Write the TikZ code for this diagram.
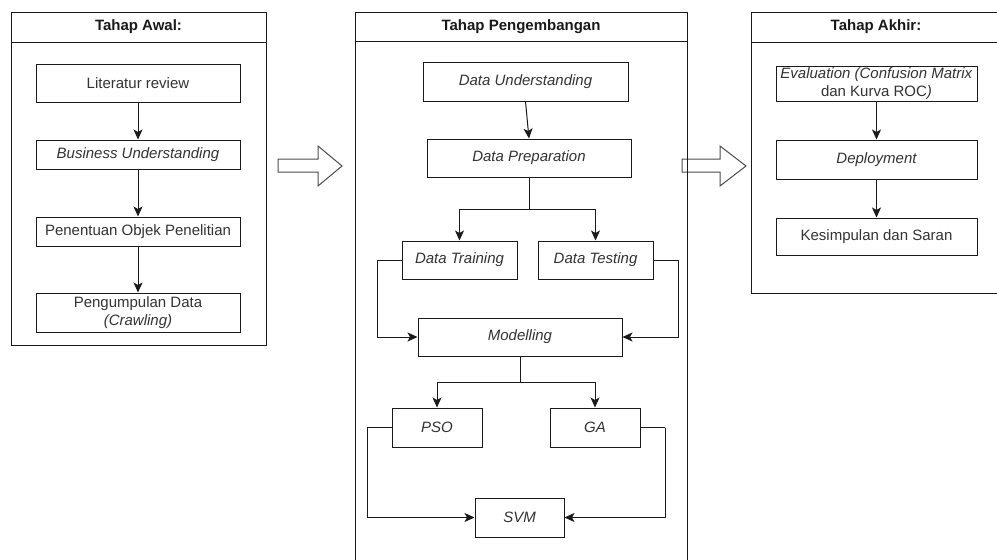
\documentclass[tikz,border=0pt]{standalone}
\usepackage{fontspec}
\setmainfont{Liberation Sans}
\usetikzlibrary{arrows.meta,calc}
\definecolor{txt}{HTML}{333333}
\definecolor{ln}{HTML}{1A1A1A}
\begin{document}
\begin{tikzpicture}[x=1pt,y=-1pt,
  every node/.style={font=\fontsize{15}{17.5}\selectfont, text=txt},
  boxn/.style={draw=ln, line width=1pt, fill=white, inner sep=0pt, align=center},
  hdr/.style={font=\fontsize{15}{17.5}\selectfont\bfseries, text=black!90},
  lane/.style={draw=ln, line width=1pt},
  arr/.style={draw=ln, line width=1pt, -{Stealth[length=10pt,width=9pt,inset=2.5pt]}},
  con/.style={draw=ln, line width=1pt},
  big/.style={draw=black!70, line width=1pt, fill=white, line join=miter}
]
\useasboundingbox (0,0) rectangle (997,560);

% big hollow arrows
\draw[big] (278,159) -- (318,159) -- (318,146) -- (342,166) -- (318,186) -- (318,172) -- (278,172) -- cycle;
\draw[big] (682,159) -- (720,159) -- (720,146) -- (746,166) -- (720,186) -- (720,172) -- (682,172) -- cycle;

% containers
\draw[lane] (11,12) rectangle (266,345);
\draw[lane] (11,42) -- (266,42);
\node[hdr] (h1) at (138.5,27) {Tahap Awal:};

\draw[lane] (355,12) rectangle (687,575);
\draw[lane] (355,41) -- (687,41);
\node[hdr] (h2) at (521,26.5) {Tahap Pengembangan};

\draw[lane] (751,12) rectangle (1005,293);
\draw[lane] (751,42) -- (1005,42);
\node[hdr] (h3) at (876,27) {Tahap Akhir:};

% left column
\node[boxn, minimum width=204pt, minimum height=38pt] (lit) at (138,83) {Literatur review};
\node[boxn, minimum width=204pt, minimum height=29pt] (bu) at (138,154.5) {\itshape Business Understanding};
\node[boxn, minimum width=204pt, minimum height=29pt] (pen) at (138,231.5) {Penentuan Objek Penelitian};
\node[boxn, minimum width=204pt, minimum height=39pt] (pd) at (138,312.5) {Pengumpulan Data\\\textit{(Crawling)}};
\draw[arr] (lit) -- (bu);
\draw[arr] (bu) -- (pen);
\draw[arr] (pen) -- (pd);

% middle column
\node[boxn, minimum width=205pt, minimum height=39pt] (du) at (525.5,81.5) {\itshape Data Understanding};
\node[boxn, minimum width=204pt, minimum height=38pt] (dp) at (529,158) {\itshape Data Preparation};
\node[boxn, minimum width=115pt, minimum height=38pt] (tr) at (459.5,260) {\itshape Data Training};
\node[boxn, minimum width=115pt, minimum height=38pt] (te) at (595.5,260) {\itshape Data Testing};
\node[boxn, minimum width=204pt, minimum height=38pt] (mo) at (520,337) {\itshape Modelling};
\node[boxn, minimum width=90pt, minimum height=39pt] (pso) at (437,427.5) {\itshape PSO};
\node[boxn, minimum width=90pt, minimum height=39pt] (ga) at (595,427.5) {\itshape GA};
\node[boxn, minimum width=89pt, minimum height=39pt] (svm) at (519.5,517.5) {\itshape SVM};

\draw[arr] (du.south) -- (dp.north);
\coordinate (s1) at (529,209);
\draw[con] (dp.south) -- (s1);
\draw[arr] (s1) -| (tr.north);
\draw[arr] (s1) -| (te.north);
\coordinate (trl) at (377,260);
\coordinate (ter) at (678,260);
\draw[con] (tr.west) -- (trl);
\draw[arr] (trl) |- (mo.west);
\draw[con] (te.east) -- (ter);
\draw[arr] (ter) |- (mo.east);
\coordinate (s2) at (520,382);
\draw[con] (mo.south) -- (s2);
\draw[arr] (s2) -| (pso.north);
\draw[arr] (s2) -| (ga.north);
\coordinate (psol) at (367,427.5);
\coordinate (gar) at (665,427.5);
\draw[con] (pso.west) -- (psol);
\draw[arr] (psol) |- (svm.west);
\draw[con] (ga.east) -- (gar);
\draw[arr] (gar) |- (svm.east);

% right column
\node[boxn, minimum width=201pt, minimum height=35pt] (ev) at (876.5,83.5) {\textit{Evaluation (Confusion Matrix}\\dan Kurva ROC\textit{)}};
\node[boxn, minimum width=201pt, minimum height=39pt] (de) at (876.5,159.5) {\itshape Deployment};
\node[boxn, minimum width=201pt, minimum height=37pt] (ks) at (876.5,236.5) {Kesimpulan dan Saran};
\draw[arr] (ev) -- (de);
\draw[arr] (de) -- (ks);
\end{tikzpicture}
\end{document}
